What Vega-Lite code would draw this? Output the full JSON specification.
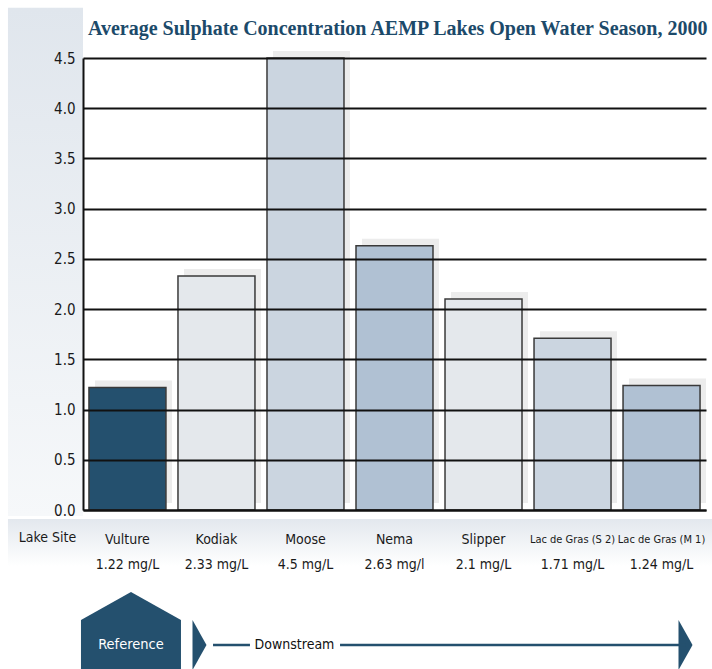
{
  "$schema": "https://vega.github.io/schema/vega-lite/v6.json",
  "width": 623,
  "height": 452,
  "autosize": "none",
  "padding": {"left": 83, "top": 58, "right": 6, "bottom": 159},
  "background": "white",
  "config": {"view": {"stroke": null}},
  "title": {
    "text": "Average Sulphate Concentration AEMP Lakes Open Water Season, 2000",
    "anchor": "start",
    "frame": "group",
    "font": "Liberation Serif",
    "fontSize": 20,
    "fontWeight": "bold",
    "color": "#1c4a6a",
    "dx": 5,
    "offset": -31
  },
  "datasets": {
    "lakes": [
      {"lake": "Vulture", "sulphate": 1.22, "label": "1.22 mg/L"},
      {"lake": "Kodiak", "sulphate": 2.33, "label": "2.33 mg/L"},
      {"lake": "Moose", "sulphate": 4.5, "label": "4.5 mg/L"},
      {"lake": "Nema", "sulphate": 2.63, "label": "2.63 mg/l"},
      {"lake": "Slipper", "sulphate": 2.1, "label": "2.1 mg/L"},
      {"lake": "Lac de Gras (S 2)", "sulphate": 1.71, "label": "1.71 mg/L"},
      {"lake": "Lac de Gras (M 1)", "sulphate": 1.24, "label": "1.24 mg/L"}
    ],
    "deco": [{"item": "decoration"}]
  },
  "layer": [
    {
      "data": {"name": "deco"},
      "mark": {"type": "rect", "fill": {"gradient": "linear", "x1": 0, "y1": 0, "x2": 0, "y2": 1, "stops": [{"offset": 0, "color": "#e0e6ed"}, {"offset": 1, "color": "#f6f8fa"}]}},
      "encoding": {
        "x": {"datum": -0.843, "type": "quantitative", "scale": {"domain": [0, 7], "nice": false}, "axis": null},
        "x2": {"datum": 0},
        "y": {"datum": 5.0, "type": "quantitative", "scale": {"domain": [0, 4.5], "nice": false}, "axis": null},
        "y2": {"datum": -0.06}
      }
    },
    {
      "data": {"name": "deco"},
      "mark": {"type": "rect", "fill": {"gradient": "linear", "x1": 0, "y1": 0, "x2": 0, "y2": 1, "stops": [{"offset": 0, "color": "#e3e8ee"}, {"offset": 1, "color": "#ffffff"}]}},
      "encoding": {
        "x": {"datum": -0.843, "type": "quantitative", "scale": {"domain": [0, 7], "nice": false}, "axis": null},
        "x2": {"datum": 7.07},
        "y": {"datum": -0.09, "type": "quantitative", "scale": {"domain": [0, 4.5], "nice": false}, "axis": null},
        "y2": {"datum": -0.56}
      }
    },
    {
      "data": {"name": "lakes"},
      "layer": [
        {
          "mark": {"type": "bar", "color": "#ececec", "xOffset": 6, "yOffset": -7},
          "encoding": {
            "x": {"field": "lake", "type": "nominal", "sort": null, "scale": {"paddingInner": 0.135, "paddingOuter": 0.067},
              "axis": {"labels": false, "ticks": false, "title": null, "domain": true, "domainColor": "#111", "domainWidth": 2, "zindex": 1}},
            "y": {"field": "sulphate", "type": "quantitative", "scale": {"domain": [0, 4.5], "nice": false},
              "axis": {"values": [0, 0.5, 1, 1.5, 2, 2.5, 3, 3.5, 4, 4.5], "format": ".1f", "title": null, "grid": true, "gridColor": "#111", "gridWidth": 2, "domainColor": "#111", "domainWidth": 2, "ticks": false, "labelPadding": 8, "labelFont": "DejaVu Sans Condensed, sans-serif", "labelFontSize": 15, "labelColor": "#1a1a1a", "zindex": 1}}
          }
        },
        {
          "mark": {"type": "bar", "stroke": "#3a3a3a", "strokeWidth": 1.5},
          "encoding": {
            "x": {"field": "lake", "type": "nominal", "sort": null},
            "y": {"field": "sulphate", "type": "quantitative", "scale": {"domain": [0, 4.5], "nice": false}},
            "color": {"field": "lake", "type": "nominal", "legend": null,
              "scale": {"domain": ["Vulture", "Kodiak", "Moose", "Nema", "Slipper", "Lac de Gras (S 2)", "Lac de Gras (M 1)"],
                "range": ["#24506e", "#e4e8ec", "#cbd5e0", "#b0c1d3", "#e4e8ec", "#cbd5e0", "#b0c1d3"]}}
          }
        },
        {
          "mark": {"type": "text", "font": "DejaVu Sans Condensed, sans-serif", "color": "#1a1a1a", "baseline": "middle"},
          "encoding": {
            "x": {"field": "lake", "type": "nominal", "sort": null},
            "y": {"datum": -0.30, "type": "quantitative", "scale": {"domain": [0, 4.5], "nice": false}},
            "text": {"field": "lake"},
            "size": {"condition": {"test": "indexof(datum.lake, 'Lac') == 0", "value": 11}, "value": 14}
          }
        },
        {
          "mark": {"type": "text", "font": "DejaVu Sans Condensed, sans-serif", "fontSize": 14, "color": "#1a1a1a", "baseline": "middle"},
          "encoding": {
            "x": {"field": "lake", "type": "nominal", "sort": null},
            "y": {"datum": -0.55, "type": "quantitative", "scale": {"domain": [0, 4.5], "nice": false}},
            "text": {"field": "label"}
          }
        }
      ]
    },
    {
      "data": {"name": "deco"},
      "mark": {"type": "text", "font": "DejaVu Sans Condensed, sans-serif", "fontSize": 14, "color": "#1a1a1a", "baseline": "middle"},
      "encoding": {
        "x": {"datum": -0.40, "type": "quantitative", "scale": {"domain": [0, 7], "nice": false}, "axis": null},
        "y": {"datum": -0.28, "type": "quantitative", "scale": {"domain": [0, 4.5], "nice": false}, "axis": null},
        "text": {"value": "Lake Site"}
      }
    },
    {
      "data": {"name": "deco"},
      "mark": {"type": "point", "shape": "M-1,-0.44L0,-1L1,-0.44L1,1L-1,1Z", "size": 10000, "filled": true, "color": "#24506e", "opacity": 1, "strokeWidth": 0},
      "encoding": {
        "x": {"datum": 0.539, "type": "quantitative", "scale": {"domain": [0, 7], "nice": false}, "axis": null},
        "y": {"datum": -1.314, "type": "quantitative", "scale": {"domain": [0, 4.5], "nice": false}, "axis": null}
      }
    },
    {
      "data": {"name": "deco"},
      "mark": {"type": "text", "font": "DejaVu Sans Condensed, sans-serif", "fontSize": 14.5, "color": "white", "baseline": "middle"},
      "encoding": {
        "x": {"datum": 0.539, "type": "quantitative", "scale": {"domain": [0, 7], "nice": false}, "axis": null},
        "y": {"datum": -1.344, "type": "quantitative", "scale": {"domain": [0, 4.5], "nice": false}, "axis": null},
        "text": {"value": "Reference"}
      }
    },
    {
      "data": {"values": [{"end": "start", "pos": 1.309}, {"end": "finish", "pos": 6.770}]},
      "mark": {"type": "point", "shape": "M-0.28,-1L0.28,0L-0.28,1Z", "size": 2500, "filled": true, "color": "#24506e", "opacity": 1, "strokeWidth": 0},
      "encoding": {
        "x": {"field": "pos", "type": "quantitative", "scale": {"domain": [0, 7], "nice": false}, "axis": null},
        "y": {"datum": -1.344, "type": "quantitative", "scale": {"domain": [0, 4.5], "nice": false}, "axis": null}
      }
    },
    {
      "data": {"values": [{"from": 1.461, "to": 1.876}, {"from": 2.888, "to": 6.77}]},
      "mark": {"type": "rule", "color": "#24506e", "strokeWidth": 2.5},
      "encoding": {
        "x": {"field": "from", "type": "quantitative", "scale": {"domain": [0, 7], "nice": false}, "axis": null},
        "x2": {"field": "to"},
        "y": {"datum": -1.344, "type": "quantitative", "scale": {"domain": [0, 4.5], "nice": false}, "axis": null}
      }
    },
    {
      "data": {"name": "deco"},
      "mark": {"type": "text", "font": "DejaVu Sans Condensed, sans-serif", "fontSize": 14, "color": "#111", "baseline": "middle"},
      "encoding": {
        "x": {"datum": 2.376, "type": "quantitative", "scale": {"domain": [0, 7], "nice": false}, "axis": null},
        "y": {"datum": -1.344, "type": "quantitative", "scale": {"domain": [0, 4.5], "nice": false}, "axis": null},
        "text": {"value": "Downstream"}
      }
    }
  ],
  "resolve": {"scale": {"x": "independent", "y": "independent"}}
}
